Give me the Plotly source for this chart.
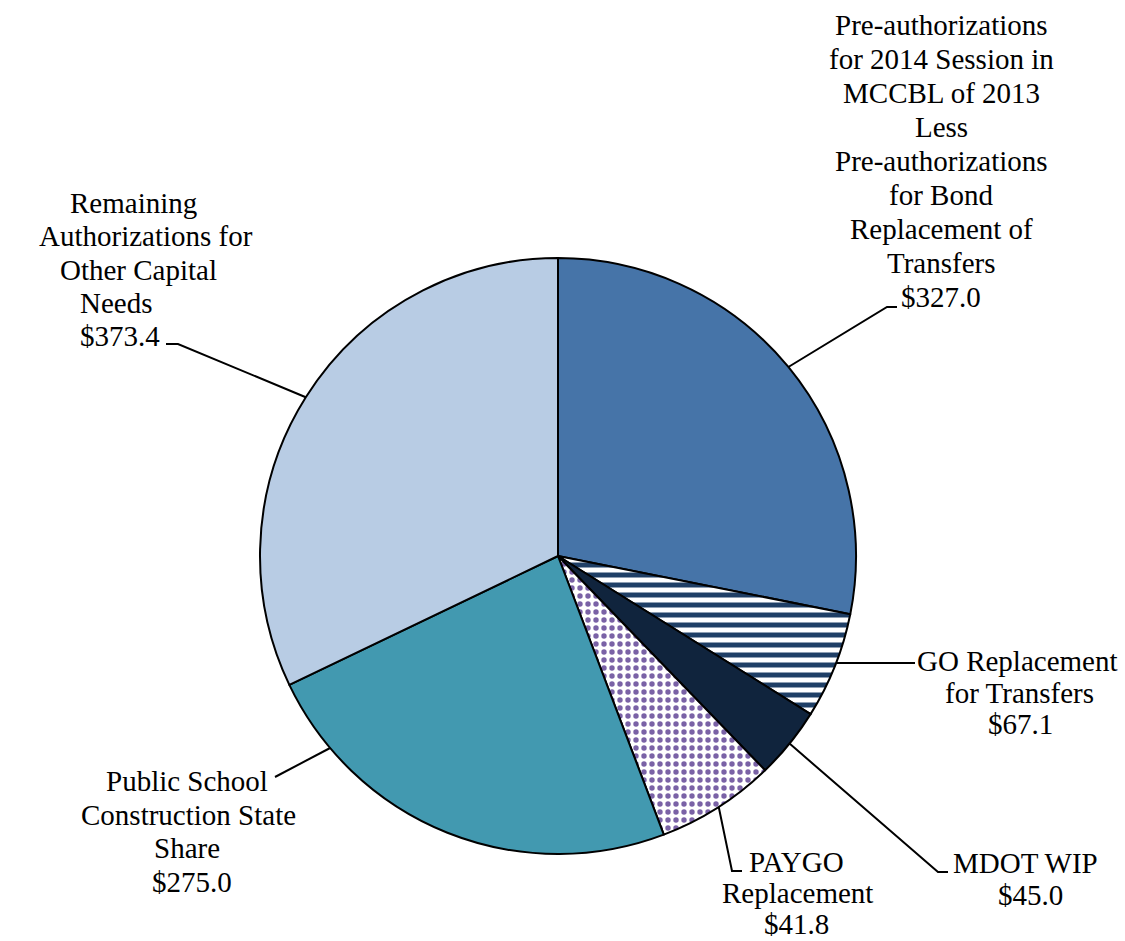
import math
import plotly.graph_objects as go

# ---------------- data ----------------
categories = [
    "Pre-authorizations for 2014 Session in MCCBL of 2013 Less Pre-authorizations for Bond Replacement of Transfers",
    "GO Replacement for Transfers",
    "MDOT WIP",
    "PAYGO Replacement",
    "Public School Construction State Share",
    "Remaining Authorizations for Other Capital Needs",
]
# slice sizes as drawn in the picture (the PAYGO wedge is drawn larger than its label)
values = [327.0, 67.1, 45.0, 75.0, 275.0, 373.4]
# amounts printed in the labels
label_values = [327.0, 67.1, 45.0, 41.8, 275.0, 373.4]
label_lines = [
    ["Pre-authorizations", "for 2014 Session in", "MCCBL of 2013", "Less",
     "Pre-authorizations", "for Bond", "Replacement of", "Transfers"],
    ["GO Replacement", "for Transfers"],
    ["MDOT WIP"],
    ["PAYGO", "Replacement"],
    ["Public School", "Construction State", "Share"],
    ["Remaining", "Authorizations for", "Other Capital", "Needs"],
]

# ---------------- styles / layout ----------------
W, H = 1125, 941
CX, CY, R = 558, 556, 298          # pie centre / radius in pixels
slice_colors = ["#4674A8", "#FFFFFF", "#10243D", "#FFFFFF", "#4299B0", "#B8CCE4"]
pattern_shapes = ["", "-", "", ".", "", ""]
pattern_fg = ["#4674A8", "#1F3F66", "#10243D", "#7A62A6", "#4299B0", "#B8CCE4"]
pattern_bg = ["#4674A8", "#FFFFFF", "#10243D", "#FFFFFF", "#4299B0", "#B8CCE4"]
pattern_size = [8, 10, 8, 8, 8, 8]
pattern_solid = [0.3, 0.5, 0.3, 0.36, 0.3, 0.3]

FONT = "Liberation Serif"
FSIZE = 29

# label placement (pixels): x centres per line, first line y, line spacing
label_x = [
    [941] * 9,
    [1017, 1019, 1020],
    [1025, 1030],
    [796, 797, 796],
    [187, 188, 187, 192],
    [133, 146, 138, 116, 120],
]
label_y0 = [25, 661, 863, 862, 781, 203]
label_dy = [34, 31.5, 32, 31, 33.7, 33.3]
# leader lines: attach position within slice (fraction), then bend points (pixels)
attach_frac = [0.5, 0.47, 0.5, 0.49, 0.83, 0.5]
leader_pts = [
    [(887, 307), (897, 307)],
    [(915, 663)],
    [(938, 872), (948, 872)],
    [(732, 871), (742, 871)],
    [(275, 777)],
    [(178, 344), (166, 344)],
]


def px(x):
    return x / W


def py(y):
    return 1 - y / H


fig = go.Figure()
fig.add_trace(go.Pie(
    labels=categories,
    values=values,
    sort=False,
    direction="clockwise",
    rotation=0,
    textinfo="none",
    hoverinfo="label",
    showlegend=False,
    domain=dict(x=[px(CX - R), px(CX + R)], y=[py(CY + R), py(CY - R)]),
    marker=dict(
        colors=slice_colors,
        line=dict(color="black", width=2),
        pattern=dict(shape=pattern_shapes, fgcolor=pattern_fg, bgcolor=pattern_bg,
                     size=pattern_size, solidity=pattern_solid, fillmode="replace"),
    ),
))

total = sum(values)
annotations = []
shapes = []
cum = 0.0
for i, v in enumerate(values):
    a0 = cum / total * 360
    a1 = (cum + v) / total * 360
    cum += v
    ang = math.radians(a0 + attach_frac[i] * (a1 - a0))
    ax = CX + R * math.sin(ang)
    ay = CY - R * math.cos(ang)
    pts = [(ax, ay)] + leader_pts[i]
    path = "M " + " L ".join(f"{px(x)},{py(y)}" for x, y in pts)
    shapes.append(dict(type="path", xref="paper", yref="paper", path=path,
                       line=dict(color="black", width=2)))
    lines = label_lines[i] + [f"${label_values[i]:.1f}"]
    for k, t in enumerate(lines):
        annotations.append(dict(
            x=px(label_x[i][k]), y=py(label_y0[i] + k * label_dy[i]),
            xref="paper", yref="paper", text=t, showarrow=False,
            xanchor="center", yanchor="middle",
            font=dict(family=FONT, size=FSIZE, color="black"),
        ))

fig.update_layout(
    width=W, height=H,
    margin=dict(l=0, r=0, t=0, b=0),
    paper_bgcolor="white", plot_bgcolor="white",
    annotations=annotations, shapes=shapes,
)
fig.write_html("out.html", config={"displayModeBar": False},
               post_script="document.body.style.margin='0px';")
